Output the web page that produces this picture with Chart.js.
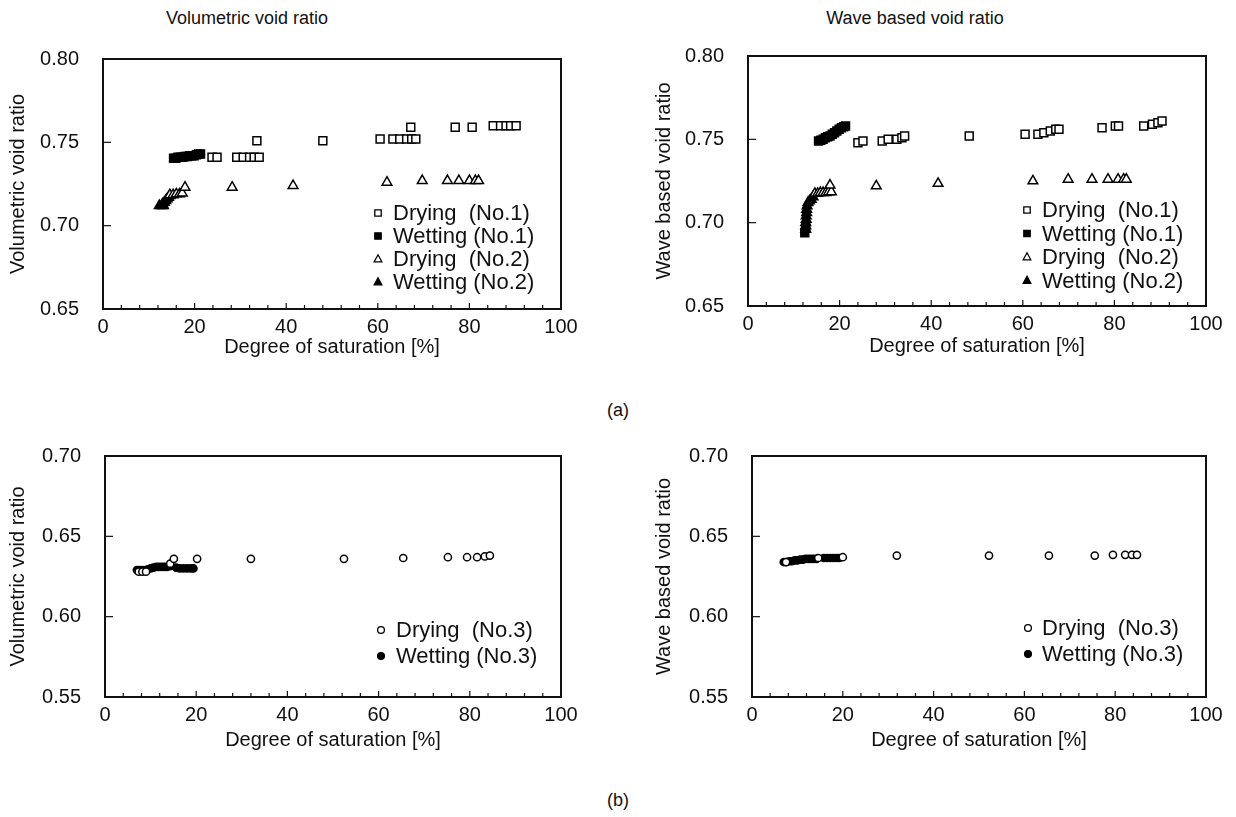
<!DOCTYPE html>
<html><head><meta charset="utf-8">
<script src="https://cdn.jsdelivr.net/npm/chart.js@4.4.1/dist/chart.umd.min.js"></script>
<style>
body{margin:0;background:#fff;width:1236px;height:817px;position:relative;overflow:hidden;font-family:"Liberation Sans",Arial,sans-serif;color:#111;}
canvas{position:absolute;}
.t{position:absolute;font-size:18px;transform:translate(-50%,-50%);white-space:nowrap;}
</style></head><body>
<div class="t" style="left:247px;top:18px">Volumetric void ratio</div>
<div class="t" style="left:915px;top:18px">Wave based void ratio</div>
<div class="t" style="left:618px;top:410px;font-size:18px">(a)</div>
<div class="t" style="left:618px;top:800px;font-size:18px">(b)</div>
<canvas id="cA"></canvas>
<canvas id="cB"></canvas>
<canvas id="cC"></canvas>
<canvas id="cD"></canvas>
<script>
// ---------- data ----------
const xTickValues = [0, 20, 40, 60, 80, 100];
const yTicksTop = [0.65, 0.70, 0.75, 0.80];
const yTicksBottom = [0.55, 0.60, 0.65, 0.70];

// (a) Volumetric void ratio
const volDry1X = [23.8, 24.9, 29.2, 30.6, 32.0, 33.0, 34.1, 33.6, 48.0, 60.5, 63.3, 64.8, 66.3, 67.4, 68.3, 67.2, 76.9, 80.6, 85.2, 86.8, 88.0, 89.0, 90.2];
const volDry1Y = [0.741, 0.741, 0.741, 0.741, 0.741, 0.741, 0.741, 0.751, 0.751, 0.752, 0.752, 0.752, 0.752, 0.752, 0.752, 0.759, 0.759, 0.759, 0.760, 0.760, 0.760, 0.760, 0.760];
const volWet1X = [15.4, 15.9, 16.4, 16.9, 17.4, 17.9, 18.4, 18.9, 19.4, 19.9, 20.4, 20.9, 21.3];
const volWet1Y = [0.7405, 0.7405, 0.741, 0.741, 0.741, 0.7415, 0.7415, 0.742, 0.742, 0.742, 0.7425, 0.743, 0.743];
const volDry2X = [14.6, 15.3, 16.0, 16.7, 17.3, 17.9, 28.2, 41.5, 62.0, 69.7, 75.2, 77.7, 80.0, 81.3, 82.0];
const volDry2Y = [0.7185, 0.7185, 0.719, 0.719, 0.7195, 0.723, 0.723, 0.724, 0.726, 0.727, 0.727, 0.727, 0.727, 0.727, 0.727];
const volWet2X = [12.3, 12.8, 13.2, 13.0, 13.4, 13.7, 14.0, 14.3, 14.6];
const volWet2Y = [0.712, 0.712, 0.712, 0.713, 0.714, 0.715, 0.716, 0.717, 0.718];

// (a) Wave based void ratio
const wavDry1X = [24.0, 25.1, 29.3, 30.6, 32.5, 33.6, 34.2, 48.3, 60.5, 63.3, 64.6, 66.0, 67.2, 67.9, 77.3, 80.2, 80.9, 86.4, 88.3, 89.5, 90.4];
const wavDry1Y = [0.748, 0.749, 0.749, 0.750, 0.750, 0.751, 0.752, 0.752, 0.753, 0.753, 0.754, 0.755, 0.756, 0.756, 0.757, 0.758, 0.758, 0.758, 0.759, 0.760, 0.761];
const wavWet1X = [12.4, 12.6, 15.4, 15.9, 16.4, 16.9, 17.4, 17.9, 18.4, 18.9, 19.4, 19.9, 20.4, 20.9, 21.3];
const wavWet1Y = [0.694, 0.697, 0.749, 0.7495, 0.750, 0.751, 0.7515, 0.752, 0.753, 0.754, 0.755, 0.756, 0.757, 0.7575, 0.758];
const wavDry2X = [14.6, 15.2, 15.8, 16.4, 17.0, 17.6, 18.2, 17.9, 28.0, 41.5, 62.2, 69.9, 75.1, 78.6, 80.8, 82.0, 82.6];
const wavDry2Y = [0.7175, 0.7175, 0.718, 0.718, 0.718, 0.7185, 0.7185, 0.7225, 0.722, 0.7235, 0.725, 0.726, 0.726, 0.726, 0.726, 0.726, 0.726];
const wavWet2X = [12.6, 12.6, 12.6, 12.7, 12.7, 12.8, 12.8, 12.9, 13.1, 13.4, 13.8, 14.2];
const wavWet2Y = [0.696, 0.698, 0.700, 0.702, 0.704, 0.706, 0.708, 0.710, 0.712, 0.713, 0.714, 0.7155];

// (b) Volumetric void ratio
const volDry3X = [7.4, 8.2, 9.0, 14.3, 15.1, 20.2, 32.0, 52.4, 65.4, 75.2, 79.4, 81.6, 83.3, 84.4];
const volDry3Y = [0.628, 0.628, 0.628, 0.633, 0.636, 0.636, 0.636, 0.636, 0.6365, 0.637, 0.637, 0.637, 0.6375, 0.638];
const volWet3X = [7.0, 7.6, 8.2, 8.8, 9.4, 10.0, 10.6, 11.2, 11.8, 12.4, 13.0, 13.6, 14.2, 15.6, 16.4, 17.2, 18.0, 18.8, 19.4];
const volWet3Y = [0.629, 0.629, 0.629, 0.629, 0.6295, 0.630, 0.6305, 0.631, 0.631, 0.631, 0.631, 0.631, 0.6315, 0.6305, 0.630, 0.630, 0.630, 0.630, 0.630];

// (b) Wave based void ratio
const wavDry3X = [7.5, 14.6, 20.0, 31.9, 52.2, 65.4, 75.5, 79.5, 82.2, 83.7, 84.8];
const wavDry3Y = [0.634, 0.6365, 0.637, 0.638, 0.638, 0.638, 0.638, 0.6385, 0.6385, 0.6385, 0.6385];
const wavWet3X = [7.0, 7.6, 8.2, 8.8, 9.4, 10.0, 10.6, 11.2, 11.8, 12.4, 13.0, 13.6, 14.2, 15.8, 16.5, 17.2, 17.9, 18.6, 19.2];
const wavWet3Y = [0.634, 0.634, 0.6345, 0.6345, 0.635, 0.635, 0.6355, 0.6355, 0.636, 0.636, 0.636, 0.636, 0.636, 0.6365, 0.6365, 0.6365, 0.6365, 0.6365, 0.6365];

// ---------- rendering ----------
const FONT = "'Liberation Sans', Arial, sans-serif";
Chart.defaults.font.family = FONT;
Chart.defaults.color = '#111';

function pts(xs, ys){ return xs.map((x,i)=>({x:x, y:ys[i]})); }

function ds(label, xs, ys, style, filled){
  const r = style === 'circle' ? 3.6 : 5.6;
  return {
    label, data: pts(xs, ys), pointStyle: style, filled,
    pointRadius: r, pointHoverRadius: r,
    pointBackgroundColor: filled ? '#000' : '#fff',
    pointBorderColor: '#000', pointBorderWidth: 1.5, showLine: false
  };
}

function drawMark(ctx, style, filled, x, y){
  ctx.beginPath();
  if (style === 'rect') { ctx.rect(x-3.2, y-3.2, 6.4, 6.4); }
  else if (style === 'triangle') { ctx.moveTo(x, y-4.2); ctx.lineTo(x+3.8, y+2.8); ctx.lineTo(x-3.8, y+2.8); ctx.closePath(); }
  else { ctx.arc(x, y, 3.4, 0, Math.PI*2); }
  ctx.fillStyle = filled ? '#000' : '#fff';
  ctx.fill();
  ctx.lineWidth = 1.3; ctx.strokeStyle = '#000'; ctx.stroke();
}

const framePlugin = {
  id: 'frame',
  afterDraw(chart, args, opts){
    const ctx = chart.ctx;
    const {left, top, right, bottom} = chart.chartArea;
    ctx.save();
    ctx.strokeStyle = '#111';
    ctx.lineWidth = 1.2;
    const xs = chart.scales.x, ys = chart.scales.y;
    for (let v = 0; v <= 100; v += 4) {
      const px = xs.getPixelForValue(v);
      const len = (v % 20 === 0) ? 6 : 4;
      ctx.beginPath(); ctx.moveTo(px, bottom); ctx.lineTo(px, bottom - len); ctx.stroke();
    }
    ys.ticks.forEach(t => {
      const py = ys.getPixelForValue(t.value);
      ctx.beginPath(); ctx.moveTo(left, py); ctx.lineTo(left + 8, py); ctx.stroke();
    });
    ctx.lineWidth = 2;
    ctx.strokeRect(left, top, right - left, bottom - top);
    const lg = opts.legend;
    ctx.font = lg.size + 'px ' + FONT;
    ctx.textBaseline = 'middle';
    chart.data.datasets.forEach((d, i) => {
      const y = lg.y0 + i * lg.dy;
      drawMark(ctx, d.pointStyle, d.filled, lg.mx, y);
      ctx.fillStyle = '#111';
      ctx.fillText(d.label, lg.tx, y + 1);
    });
    ctx.restore();
  }
};

function panel(id, geo, datasets, yMin, yMax, yTitle, legend){
  const cv = document.getElementById(id);
  const W = geo.cRight - geo.cLeft, H = geo.cBottom - geo.cTop;
  cv.width = W; cv.height = H;
  cv.style.left = geo.cLeft + 'px'; cv.style.top = geo.cTop + 'px';
  cv.style.width = W + 'px'; cv.style.height = H + 'px';
  const yW = geo.aLeft - geo.cLeft, xH = geo.cBottom - geo.aBottom;
  new Chart(cv, {
    type: 'scatter',
    data: { datasets },
    options: {
      responsive: false, animation: false, devicePixelRatio: 1,
      layout: { padding: { left: 0, top: geo.aTop - geo.cTop, right: geo.cRight - geo.aRight, bottom: 0 } },
      plugins: {
        legend: { display: false }, tooltip: { enabled: false },
        frame: { legend: { mx: legend.mx - geo.cLeft, tx: legend.tx - geo.cLeft, y0: legend.y0 - geo.cTop, dy: legend.dy, size: 22 } }
      },
      scales: {
        x: {
          type: 'linear', min: 0, max: 100,
          afterFit: s => { s.height = xH; },
          afterBuildTicks: s => { s.ticks = xTickValues.map(v => ({value: v})); },
          grid: { display: false, drawTicks: false },
          border: { display: false },
          ticks: { padding: 6, font: { size: 20 }, color: '#111', maxRotation: 0 },
          title: { display: true, text: 'Degree of saturation [%]', font: { size: 20 }, color: '#111', padding: { top: 0, bottom: 0 } }
        },
        y: {
          type: 'linear', min: yMin, max: yMax,
          afterFit: s => { s.width = yW; },
          afterBuildTicks: s => { s.ticks = (yMin > 0.6 ? yTicksTop : yTicksBottom).map(v => ({value: v})); },
          grid: { display: false, drawTicks: false },
          border: { display: false },
          ticks: { padding: 24, font: { size: 20 }, color: '#111', callback: v => Number(v).toFixed(2) },
          title: { display: true, text: yTitle, font: { size: 20 }, color: '#111', padding: { top: 6, bottom: 0 } }
        }
      }
    },
    plugins: [framePlugin]
  });
}

panel('cA', {cLeft:0, cTop:0, cRight:600, cBottom:359, aLeft:103, aTop:59, aRight:561, aBottom:309},
  [ds('Drying  (No.1)', volDry1X, volDry1Y, 'rect', false),
   ds('Wetting (No.1)', volWet1X, volWet1Y, 'rect', true),
   ds('Drying  (No.2)', volDry2X, volDry2Y, 'triangle', false),
   ds('Wetting (No.2)', volWet2X, volWet2Y, 'triangle', true)],
  0.65, 0.80, 'Volumetric void ratio', {mx:378, tx:393, y0:213, dy:23});

panel('cB', {cLeft:646, cTop:0, cRight:1230, cBottom:358, aLeft:748, aTop:56, aRight:1206, aBottom:306},
  [ds('Drying  (No.1)', wavDry1X, wavDry1Y, 'rect', false),
   ds('Wetting (No.1)', wavWet1X, wavWet1Y, 'rect', true),
   ds('Drying  (No.2)', wavDry2X, wavDry2Y, 'triangle', false),
   ds('Wetting (No.2)', wavWet2X, wavWet2Y, 'triangle', true)],
  0.65, 0.80, 'Wave based void ratio', {mx:1027, tx:1042, y0:210, dy:23.5});

panel('cC', {cLeft:0, cTop:420, cRight:600, cBottom:752, aLeft:105, aTop:445, aRight:561, aBottom:697},
  [ds('Drying  (No.3)', volDry3X, volDry3Y, 'circle', false),
   ds('Wetting (No.3)', volWet3X, volWet3Y, 'circle', true)],
  0.55, 0.70, 'Volumetric void ratio', {mx:381, tx:396, y0:630, dy:26});

panel('cD', {cLeft:646, cTop:420, cRight:1230, cBottom:752, aLeft:752, aTop:445, aRight:1206, aBottom:697},
  [ds('Drying  (No.3)', wavDry3X, wavDry3Y, 'circle', false),
   ds('Wetting (No.3)', wavWet3X, wavWet3Y, 'circle', true)],
  0.55, 0.70, 'Wave based void ratio', {mx:1028, tx:1042, y0:628, dy:26});
</script>
</body></html>
